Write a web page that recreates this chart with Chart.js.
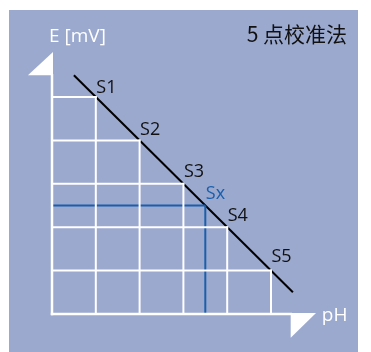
<!DOCTYPE html>
<html>
<head>
<meta charset="utf-8">
<script src="https://cdn.jsdelivr.net/npm/chart.js@4/dist/chart.umd.min.js"></script>
<style>
html,body{margin:0;padding:0;background:#fff;}
canvas{display:block;}
</style>
</head>
<body>
<canvas id="c" width="371" height="352"></canvas>
<script>
// ---- data ----
const title = '5 点校准法';
const yAxisLabel = 'E [mV]';
const xAxisLabel = 'pH';
const standardLabels = ['S1', 'S2', 'S3', 'S4', 'S5'];
const standardPH = [1, 2, 3, 4, 5];
const standardE = [5, 4, 3, 2, 1];
const calLinePH = [0.5, 5.5];
const calLineE = [5.5, 0.5];
const sampleLabel = 'Sx';
const samplePH = [3.5];
const sampleE = [2.5];
const axisMax = 6;
const arrowBase = 5.5;

// ---- styles ----
const PANEL = '#9ba9cf';
const WHITE = '#ffffff';
const BLUE = '#1b5fab';
const BLACK = '#000000';
const FONT = '"Open Sans", "Noto Sans", sans-serif';

function seg(x0, y0, x1, y1) { return [{x: x0, y: y0}, {x: x1, y: y1}]; }

const datasets = [];
function lineDs(data, color, w, cap) {
  datasets.push({data, showLine: true, borderColor: color, borderWidth: w,
    pointRadius: 0, fill: false, clip: false, tension: 0, borderCapStyle: cap || 'butt'});
}
// axes
lineDs(seg(0, 0, 0, arrowBase), WHITE, 2.5, 'square');
lineDs(seg(0, 0, axisMax - 0.55, 0), WHITE, 2.5, 'square');
// staircase grid from the standards
standardPH.forEach((p, i) => {
  lineDs(seg(0, standardE[i], p, standardE[i]), WHITE, 2, 'square');
  lineDs(seg(p, 0, p, standardE[i]), WHITE, 2, 'square');
});
// sample lines
lineDs(seg(0, sampleE[0], samplePH[0], sampleE[0]), BLUE, 2);
lineDs(seg(samplePH[0], 0, samplePH[0], sampleE[0]), BLUE, 2);
// calibration line
lineDs(seg(calLinePH[0], calLineE[0], calLinePH[1], calLineE[1]), BLACK, 2);

const labelDy = [-9.5, -11, -12, -11, -14];

const decor = {
  id: 'decor',
  beforeDraw(chart) {
    const ctx = chart.ctx;
    ctx.save();
    ctx.fillStyle = PANEL;
    ctx.fillRect(9, 10, 349, 342);
    ctx.restore();
  },
  afterDatasetsDraw(chart) {
    const ctx = chart.ctx;
    const xs = chart.scales.x, ys = chart.scales.y;
    const X = v => xs.getPixelForValue(v), Y = v => ys.getPixelForValue(v);
    ctx.save();
    // arrows
    ctx.fillStyle = WHITE;
    ctx.beginPath();
    ctx.moveTo(X(0) + 1, Y(axisMax) - 1.5);
    ctx.lineTo(X(0) + 1, Y(arrowBase));
    ctx.lineTo(X(-0.55), Y(arrowBase));
    ctx.closePath();
    ctx.fill();
    ctx.beginPath();
    ctx.moveTo(X(axisMax) + 1.2, Y(0) - 1);
    ctx.lineTo(X(axisMax - 0.55), Y(0) - 1);
    ctx.lineTo(X(axisMax - 0.55), Y(-0.55));
    ctx.closePath();
    ctx.fill();
    // axis labels
    ctx.textBaseline = 'middle';
    ctx.textAlign = 'left';
    ctx.font = '19px ' + FONT;
    ctx.fillText(yAxisLabel, X(0) - 3, Y(axisMax) - 17);
    ctx.fillText(xAxisLabel, X(axisMax) + 7, Y(0) + 2);
    // standard labels
    ctx.font = '18px ' + FONT;
    ctx.fillStyle = '#111';
    standardLabels.forEach((s, i) => {
      ctx.fillText(s, X(standardPH[i]) + 0.5, Y(standardE[i]) + labelDy[i]);
    });
    ctx.fillStyle = BLUE;
    ctx.fillText(sampleLabel, X(samplePH[0]) + 0.5, Y(sampleE[0]) - 12);
    // title
    ctx.fillStyle = '#111';
    ctx.textAlign = 'right';
    ctx.font = '21px "Noto Sans CJK SC", sans-serif';
    ctx.fillText(title, 347, 34);
    ctx.restore();
  }
};

new Chart(document.getElementById('c'), {
  type: 'scatter',
  data: {datasets},
  options: {
    responsive: false,
    devicePixelRatio: 1,
    animation: false,
    events: [],
    layout: {padding: {left: 52, right: 56.2, top: 53.6, bottom: 38}},
    plugins: {legend: {display: false}, tooltip: {enabled: false}},
    scales: {
      x: {type: 'linear', min: 0, max: axisMax, display: false},
      y: {type: 'linear', min: 0, max: axisMax, display: false}
    }
  },
  plugins: [decor]
});
</script>
</body>
</html>
